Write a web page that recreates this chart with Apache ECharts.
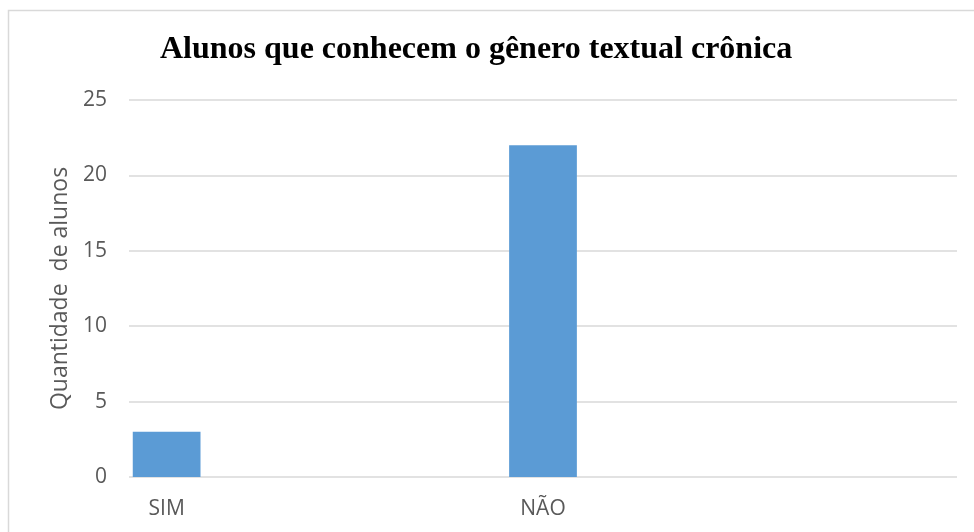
<!DOCTYPE html>
<html>
<head>
<meta charset="utf-8">
<script src="https://cdn.jsdelivr.net/npm/echarts@6/dist/echarts.min.js"></script>
<style>
  html, body { margin: 0; padding: 0; background: #fff; }
  #chart { width: 974px; height: 532px; }
</style>
</head>
<body>
<div id="chart"></div>
<script>
// the source sheet had blank rows between the two answers
const categories = ["SIM", "", "", "", "", "NÃO", "", "", "", "", ""];
const alunos = [3, null, null, null, null, 22, null, null, null, null, null];
const yTicks = [0, 5, 10, 15, 20, 25];

const chart = echarts.init(document.getElementById("chart"));

const option = {
  animation: false,
  backgroundColor: "#fff",
  title: {
    text: "Alunos que conhecem o gênero textual crônica",
    left: 155,
    top: 29,
    textStyle: {
      fontFamily: "Liberation Serif",
      fontWeight: "bold",
      fontSize: 32,
      color: "#000",
    },
  },
  grid: {
    left: 129,
    right: 17,
    top: 100,
    bottom: 55,
  },
  xAxis: {
    type: "category",
    data: categories,
    axisLine: { show: false },
    axisTick: { show: false },
    axisLabel: {
      color: "#595959",
      fontFamily: "Open Sans",
      fontSize: 21,
      margin: 22,
      interval: 0,
    },
  },
  yAxis: {
    type: "value",
    min: yTicks[0],
    max: yTicks[yTicks.length - 1],
    interval: 5,
    name: "Quantidade  de alunos",
    nameLocation: "middle",
    nameGap: 56,
    nameTextStyle: {
      color: "#595959",
      fontFamily: "Open Sans",
      fontSize: 23,
    },
    axisLine: { show: false },
    axisTick: { show: false },
    axisLabel: {
      color: "#595959",
      fontFamily: "Open Sans",
      fontSize: 21,
      margin: 22,
    },
    splitLine: {
      lineStyle: { color: "#d9d9d9", width: 1.5 },
    },
  },
  series: [
    {
      type: "bar",
      data: alunos,
      barCategoryGap: "10%",
      itemStyle: { color: "#5b9bd5" },
    },
  ],
  graphic: [
    {
      type: "rect",
      shape: { x: 8.5, y: 10.5, width: 1000, height: 600 },
      style: { fill: "none", stroke: "#d9d9d9", lineWidth: 1.5 },
      silent: true,
    },
  ],
};

chart.setOption(option);
</script>
</body>
</html>
